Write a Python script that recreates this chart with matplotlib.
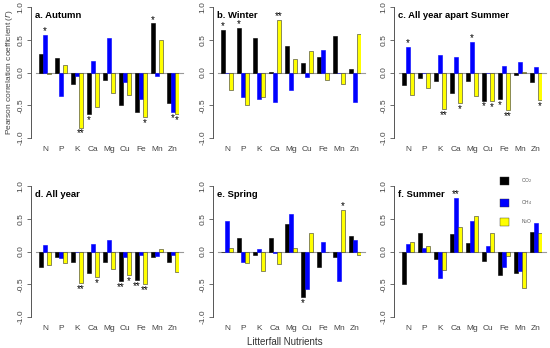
import matplotlib
matplotlib.use("Agg")
import matplotlib.pyplot as plt
from matplotlib.patches import Rectangle
import numpy as np

plt.rcParams["font.family"] = ["Liberation Sans", "DejaVu Sans"]

# ── data ─────────────────────────────────────────────────────────────────────
nutrients = ["N", "P", "K", "Ca", "Mg", "Cu", "Fe", "Mn", "Zn"]
gases     = ["CO$_2$", "CH$_4$", "N$_2$O"]
colors    = ["black", "#0000ff", "#ffff00"]

autumn_co2 = [0.28, 0.22, -0.18, -0.63, -0.11, -0.50, -0.60, 0.75, -0.46]
autumn_ch4 = [0.58, -0.36, -0.06, 0.18, 0.52, -0.15, -0.40, -0.06, -0.60]
autumn_n2o = [-0.03, 0.12, -0.84, -0.52, -0.32, -0.34, -0.68, 0.50, -0.64]

winter_co2 = [0.65, 0.68, 0.52, 0.01, 0.41, 0.14, 0.23, 0.55, 0.05]
winter_ch4 = [0.0, -0.38, -0.40, -0.45, -0.26, -0.07, 0.35, 0.0, -0.45]
winter_n2o = [-0.27, -0.50, -0.37, 0.80, 0.20, 0.33, -0.12, -0.17, 0.59]

nosummer_co2 = [-0.19, -0.08, -0.13, -0.32, -0.13, -0.43, -0.41, -0.04, -0.14]
nosummer_ch4 = [0.39, 0.0, 0.26, 0.24, 0.47, -0.01, 0.10, 0.16, 0.08]
nosummer_n2o = [-0.35, -0.24, -0.56, -0.47, -0.36, -0.44, -0.57, 0.01, -0.42]

allyear_co2 = [-0.24, -0.08, -0.16, -0.33, -0.16, -0.45, -0.44, -0.08, -0.16]
allyear_ch4 = [0.10, -0.10, -0.005, 0.12, 0.18, -0.09, -0.05, -0.07, -0.05]
allyear_n2o = [-0.21, -0.18, -0.48, -0.39, -0.26, -0.36, -0.50, 0.04, -0.32]

spring_co2 = [0.0, 0.20, -0.06, 0.21, 0.42, -0.69, -0.24, -0.08, 0.23]
spring_ch4 = [0.46, -0.16, 0.04, -0.02, 0.57, -0.57, 0.14, -0.45, 0.18]
spring_n2o = [0.06, -0.18, -0.30, -0.19, 0.06, 0.29, 0.0, 0.63, -0.06]

summer_co2 = [-0.49, 0.28, -0.11, 0.27, 0.13, -0.15, -0.36, -0.33, 0.30]
summer_ch4 = [0.11, 0.05, -0.40, 0.82, 0.46, 0.08, -0.23, -0.30, 0.43]
summer_n2o = [0.14, 0.08, -0.28, 0.38, 0.54, 0.29, -0.07, -0.56, 0.28]

# significance marks: (nutrient index, gas index, label)
autumn_sig   = [(0, 1, "*"), (2, 2, "**"), (3, 0, "*"), (6, 2, "*"), (7, 0, "*"),
                (8, 1, "*"), (8, 2, "*")]
winter_sig   = [(0, 0, "*"), (1, 0, "*"), (3, 2, "**")]
nosummer_sig = [(0, 1, "*"), (2, 2, "**"), (3, 2, "*"), (4, 1, "*"), (5, 0, "*"),
                (5, 2, "*"), (6, 0, "*"), (6, 2, "**"), (8, 2, "*")]
allyear_sig  = [(2, 2, "**"), (3, 2, "*"), (5, 0, "**"), (5, 2, "*"), (6, 0, "**"),
                (6, 2, "**")]
spring_sig   = [(5, 0, "*"), (7, 2, "*")]
summer_sig   = [(3, 1, "**")]

panels = [
    ("a. Autumn", [autumn_co2, autumn_ch4, autumn_n2o], autumn_sig),
    ("b. Winter", [winter_co2, winter_ch4, winter_n2o], winter_sig),
    ("c. All year apart Summer", [nosummer_co2, nosummer_ch4, nosummer_n2o], nosummer_sig),
    ("d. All year", [allyear_co2, allyear_ch4, allyear_n2o], allyear_sig),
    ("e. Spring", [spring_co2, spring_ch4, spring_n2o], spring_sig),
    ("f. Summer", [summer_co2, summer_ch4, summer_n2o], summer_sig),
]

# ── layout (pixels) ──────────────────────────────────────────────────────────
W, H = 550, 348
fig = plt.figure(figsize=(W / 100, H / 100), dpi=100, facecolor="white")

lefts = [35, 217, 398]
tops  = [7, 186]
ax_w, ax_h = 144, 131

for k, (title, series, sig) in enumerate(panels):
    row, col = divmod(k, 3)
    x0, y0 = lefts[col], tops[row]
    ax = fig.add_axes([x0 / W, 1 - (y0 + ax_h) / H, ax_w / W, ax_h / H])

    centers = 2.5 + 4 * np.arange(len(nutrients))
    for g in range(3):
        ax.bar(centers + (g - 1), series[g], width=1.0, color=colors[g],
               edgecolor="#333333" if g == 2 else colors[g], linewidth=0.4, zorder=3)

    ax.axhline(0, xmin=0.01, xmax=1.03, color="#999999", lw=0.8, zorder=2, clip_on=False)

    # asterisks
    for i, g, lab in sig:
        v = series[g][i]
        xx = centers[i] + (g - 1)
        if v >= 0:
            ax.text(xx, v - 0.02, lab, ha="center", va="bottom", fontsize=7, zorder=4)
        else:
            ax.text(xx, v - 0.09, lab, ha="center", va="center", fontsize=7, zorder=4)

    ax.set_xlim(0, 36)
    ax.set_ylim(-1, 1)
    for s in ["top", "right", "bottom"]:
        ax.spines[s].set_visible(False)
    ax.spines["left"].set_position(("outward", 3))
    ax.spines["left"].set_color("#555555")
    ax.spines["left"].set_linewidth(0.7)
    ax.set_yticks([-1, -0.5, 0, 0.5, 1])
    ax.set_yticklabels(["-1.0", "-0.5", "0.0", "0.5", "1.0"], rotation=90,
                       va="center", fontsize=6, color="#444444")
    ax.tick_params(axis="y", length=3, width=0.6, color="#555555", pad=1.5)
    ax.set_xticks(centers)
    ax.set_xticklabels(nutrients, fontsize=6, color="#444444")
    ax.tick_params(axis="x", length=0, pad=6)
    ax.patch.set_alpha(0)

    ax.text(0.0, 0.935, title, transform=ax.transAxes, fontsize=6.8,
            fontweight="bold", ha="left", va="center")

    if k == 0:
        ax.set_ylabel("Pearson correlation coefficient ($\\it{r}$)", fontsize=6,
                      color="#444444", labelpad=2)

fig.text(285 / W, 1 - 342 / H, "Litterfall Nutrients", fontsize=7, color="#333333",
         ha="center", va="center")

# legend boxes in panel f
leg_y = [177, 199, 218]
for c, lab, yy in zip(colors, gases, leg_y):
    fig.patches.append(Rectangle((500 / W, 1 - (yy + 8) / H), 9 / W, 8 / H,
                                 transform=fig.transFigure, facecolor=c,
                                 edgecolor="#333333", linewidth=0.3))
    fig.text(521 / W, 1 - (yy + 4) / H, lab, fontsize=3.5, color="#555555",
             ha="left", va="center")

fig.savefig("out.png", dpi=100, facecolor="white")
